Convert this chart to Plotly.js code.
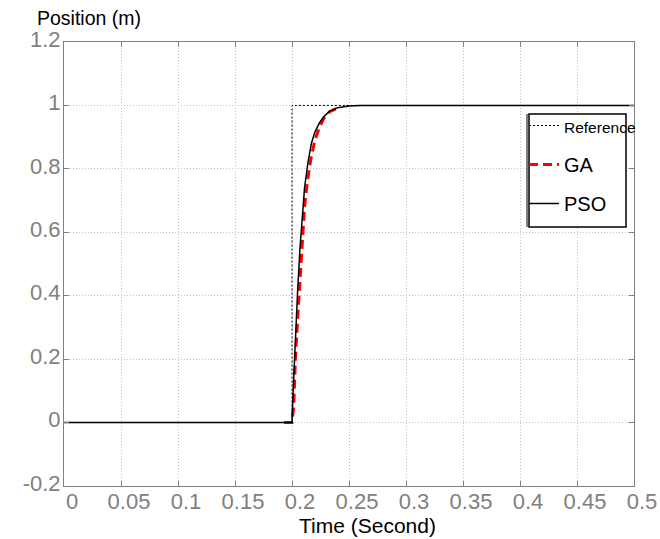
<!DOCTYPE html>
<html>
<head>
<meta charset="utf-8">
<script src="https://cdn.plot.ly/plotly-3.0.1.min.js"></script>
<style>html,body{margin:0;padding:0;background:#fff;}#chart{width:660px;height:539px;}</style>
</head>
<body>
<div id="chart"></div>
<script>
// Reference step input
const refT = [0, 0.2, 0.2, 0.5];
const refY = [0, 0, 1, 1];

// GA response (visible part)
const gaT = [0.193, 0.2, 0.2015, 0.203, 0.205, 0.207, 0.209, 0.211, 0.2135, 0.2165, 0.22, 0.224, 0.228, 0.233, 0.24];
const gaY = [0, 0, 0.05, 0.2, 0.33, 0.46, 0.58, 0.68, 0.76, 0.83, 0.89, 0.93, 0.96, 0.98, 0.992];

// PSO response
const psoT = [0, 0.2, 0.201, 0.203, 0.205, 0.207, 0.209, 0.211, 0.214, 0.217, 0.22, 0.224, 0.228, 0.233, 0.24, 0.25, 0.26, 0.5];
const psoY = [0, 0, 0.1, 0.28, 0.42, 0.55, 0.66, 0.74, 0.82, 0.88, 0.915, 0.945, 0.965, 0.982, 0.993, 0.998, 1, 1];

const xTicks = [0, 0.05, 0.1, 0.15, 0.2, 0.25, 0.3, 0.35, 0.4, 0.45, 0.5];
const xTickText = ['0', '0.05', '0.1', '0.15', '0.2', '0.25', '0.3', '0.35', '0.4', '0.45', '0.5'];
const yTicks = [-0.2, 0, 0.2, 0.4, 0.6, 0.8, 1, 1.2];
const yTickText = ['-0.2', '0', '0.2', '0.4', '0.6', '0.8', '1', '1.2'];

const FONT = 'Liberation Sans, Arial, sans-serif';

const traces = [
  {x: refT, y: refY, mode: 'lines', name: '<span style="font-size:15.5px">Reference</span>', legendgroup: 'a',
   line: {color: '#000', width: 1, dash: '2px,2px'}},
  {x: gaT, y: gaY, mode: 'lines', name: 'GA', legendgroup: 'b',
   line: {color: '#ff0000', width: 3, dash: '9px,5px'}},
  {x: psoT, y: psoY, mode: 'lines', name: 'PSO', legendgroup: 'c',
   line: {color: '#000', width: 1.5}}
];

function px2x(p) { return (p - 64) / 570; }
function px2y(p) { return (486 - p) / 444; }

const layout = {
  width: 660, height: 539,
  margin: {l: 64, r: 26, t: 42, b: 53},
  paper_bgcolor: '#fff', plot_bgcolor: '#fff',
  font: {family: FONT, color: '#000'},
  showlegend: true,
  legend: {
    x: px2x(524), y: px2y(106), xanchor: 'left', yanchor: 'top',
    borderwidth: 0, bgcolor: 'rgba(0,0,0,0)',
    font: {size: 20, color: '#000'},
    traceorder: 'grouped', tracegroupgap: 10,
    itemwidth: 30
  },
  xaxis: {
    range: [0, 0.5], tickvals: xTicks, ticktext: xTickText,
    tickfont: {size: 22, color: '#808080'},
    ticklabelshift: 8, ticklabelstandoff: -4,
    showgrid: true, gridcolor: '#c4c4c4', griddash: '1px,2px', gridwidth: 1,
    showline: true, linecolor: '#808080', linewidth: 1, mirror: 'ticks',
    ticks: 'inside', ticklen: 5, tickcolor: '#808080',
    zeroline: false
  },
  yaxis: {
    range: [-0.2, 1.2], tickvals: yTicks, ticktext: yTickText,
    tickfont: {size: 22, color: '#808080'},
    ticklabelshift: -3, ticklabelstandoff: -2,
    showgrid: true, gridcolor: '#c4c4c4', griddash: '1px,2px', gridwidth: 1,
    showline: true, linecolor: '#808080', linewidth: 1, mirror: 'ticks',
    ticks: 'inside', ticklen: 5, tickcolor: '#808080',
    zeroline: false
  },
  shapes: [
    {type: 'rect', xref: 'paper', yref: 'paper', layer: 'above',
     x0: px2x(529), x1: px2x(626), y0: px2y(227), y1: px2y(114),
     line: {color: '#000', width: 1.5}, fillcolor: '#fff'},
    {type: 'line', xref: 'paper', yref: 'paper', layer: 'above',
     x0: px2x(527), x1: px2x(527), y0: px2y(227), y1: px2y(114),
     line: {color: '#000', width: 1}}
  ],
  annotations: [
    {text: 'Position (m)', xref: 'paper', yref: 'paper', x: px2x(89), y: px2y(18),
     xanchor: 'center', yanchor: 'middle', showarrow: false, font: {size: 19.5, color: '#000'}},
    {text: 'Time (Second)', xref: 'paper', yref: 'paper', x: px2x(367), y: px2y(525),
     xanchor: 'center', yanchor: 'middle', showarrow: false, font: {size: 21, color: '#000'}}
  ]
};

Plotly.newPlot('chart', traces, layout, {displayModeBar: false, staticPlot: true});
</script>
</body>
</html>
